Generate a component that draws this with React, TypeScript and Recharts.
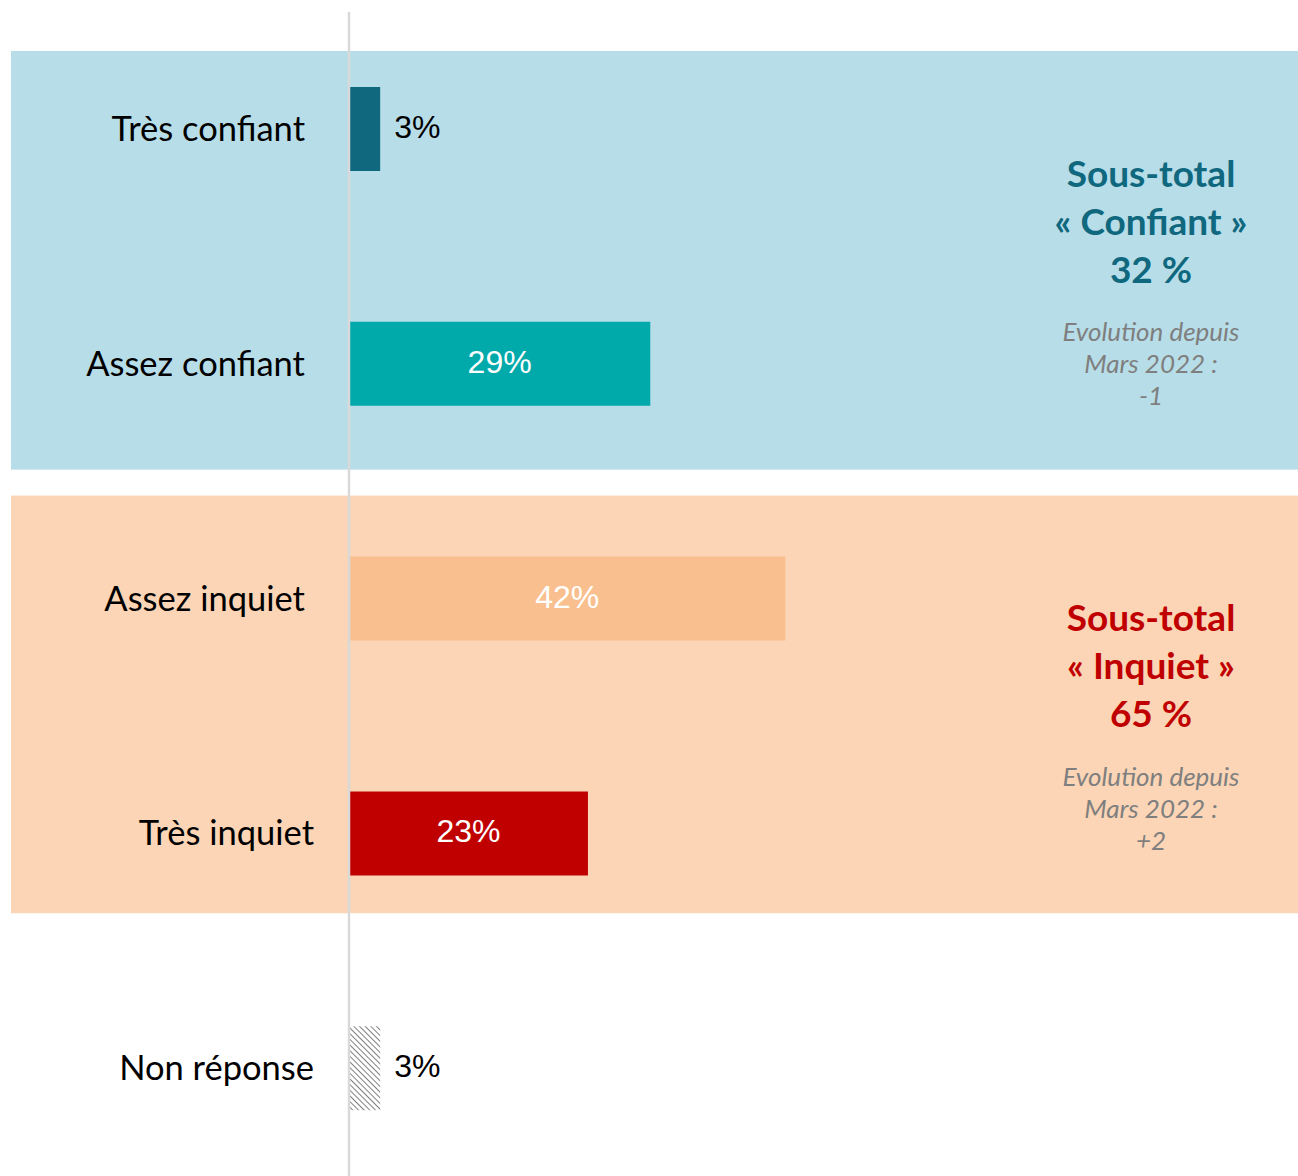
import React from 'react';
import { BarChart, Bar, XAxis, YAxis, Cell, LabelList, ReferenceArea } from 'recharts';

const categories = ['Très confiant', 'Assez confiant', 'Assez inquiet', 'Très inquiet', 'Non réponse'];
const values = [3, 29, 42, 23, 3];
const barColors = ['#10687f', '#00a9aa', '#f9bf8f', '#c00000', 'url(#hatch)'];

const confiantTitle = ['Sous-total', '« Confiant »', '32 %'];
const confiantEvolution = ['Evolution depuis', 'Mars 2022 :', '-1'];
const inquietTitle = ['Sous-total', '« Inquiet »', '65 %'];
const inquietEvolution = ['Evolution depuis', 'Mars 2022 :', '+2'];

const data = categories.map((name, i) => ({ name, value: values[i] }));

const W = 1298;
const H = 1186;

const CategoryTick = (props: any) => {
    const { x, y, payload, index } = props;
    const shift = index >= 3 ? 9 : 0;
    return (
        <text
            x={x + shift}
            y={y - 2}
            textAnchor="end"
            dominantBaseline="central"
            fontFamily="Lato, 'Noto Sans', sans-serif"
            fontSize={34.5}
            fill="#000"
        >
            {payload.value}
        </text>
    );
};

const ValueLabel = (props: any) => {
    const { x, y, width, height, value } = props;
    const inside = value >= 10;
    return (
        <text
            x={inside ? x + width / 2 : x + width + 14}
            y={y + height / 2 - 2}
            textAnchor={inside ? 'middle' : 'start'}
            dominantBaseline="central"
            fontFamily="'Liberation Sans', Arial, sans-serif"
            fontSize={32}
            fill={inside ? '#fff' : '#000'}
        >
            {value}%
        </text>
    );
};

// background band with its subtotal text on the right
const makeGroupShape = (bg: string, insetTop: number, insetBottom: number, title: string[], evolution: string[], titleColor: string) =>
    (props: any) => {
        const top = props.y + insetTop;
        const h = props.height - insetTop - insetBottom;
        const cx = W - 147;
        return (
            <g>
                <rect x={11} y={top} width={W - 11} height={h} fill={bg} />
                {title.map((t, i) => (
                    <text
                        key={'t' + i}
                        x={cx}
                        y={top + 121 + i * 48}
                        textAnchor="middle"
                        dominantBaseline="central"
                        fontFamily="Lato, 'Noto Sans', sans-serif"
                        fontWeight="bold"
                        fontSize={37}
                        fill={titleColor}
                    >
                        {t}
                    </text>
                ))}
                {evolution.map((t, i) => (
                    <text
                        key={'e' + i}
                        x={cx}
                        y={top + 280 + i * 32}
                        textAnchor="middle"
                        dominantBaseline="central"
                        fontFamily="Lato, 'Noto Sans', sans-serif"
                        fontStyle="italic"
                        fontSize={26}
                        fill="#7f7f7f"
                    >
                        {t}
                    </text>
                ))}
            </g>
        );
    };

const confiantShape = makeGroupShape('#b7dde8', 39, 12, confiantTitle, confiantEvolution, '#10687f');
const inquietShape = makeGroupShape('#fbd5b5', 14, 38, inquietTitle, inquietEvolution, '#c00000');

export default function App() {
    return (
        <div style={{ position: 'absolute', left: 0, top: 0, width: W, height: 1176, overflow: 'hidden', background: '#fff' }}>
            <BarChart
                width={W}
                height={H}
                data={data}
                layout="vertical"
                margin={{ top: 12, right: 14, bottom: 0, left: 0 }}
            >
                <defs>
                    <pattern id="hatch" width="4" height="4" patternUnits="userSpaceOnUse" patternTransform="rotate(-45)">
                        <rect width="4" height="4" fill="#fff" />
                        <line x1="0" y1="0" x2="0" y2="4" stroke="#808080" strokeWidth="2" />
                    </pattern>
                </defs>
                <ReferenceArea y1={categories[0]} y2={categories[1]} ifOverflow="visible" shape={confiantShape} />
                <ReferenceArea y1={categories[2]} y2={categories[3]} ifOverflow="visible" shape={inquietShape} />
                <XAxis type="number" domain={[0, 90]} hide />
                <YAxis
                    type="category"
                    dataKey="name"
                    width={349}
                    axisLine={{ stroke: '#d9d9d9', strokeWidth: 2.5 }}
                    tickLine={false}
                    tickSize={0}
                    tickMargin={44}
                    tick={<CategoryTick />}
                />
                <Bar dataKey="value" barSize={84} isAnimationActive={false}>
                    {data.map((d, i) => (
                        <Cell key={d.name} fill={barColors[i]} />
                    ))}
                    <LabelList dataKey="value" content={<ValueLabel />} />
                </Bar>
            </BarChart>
        </div>
    );
}
